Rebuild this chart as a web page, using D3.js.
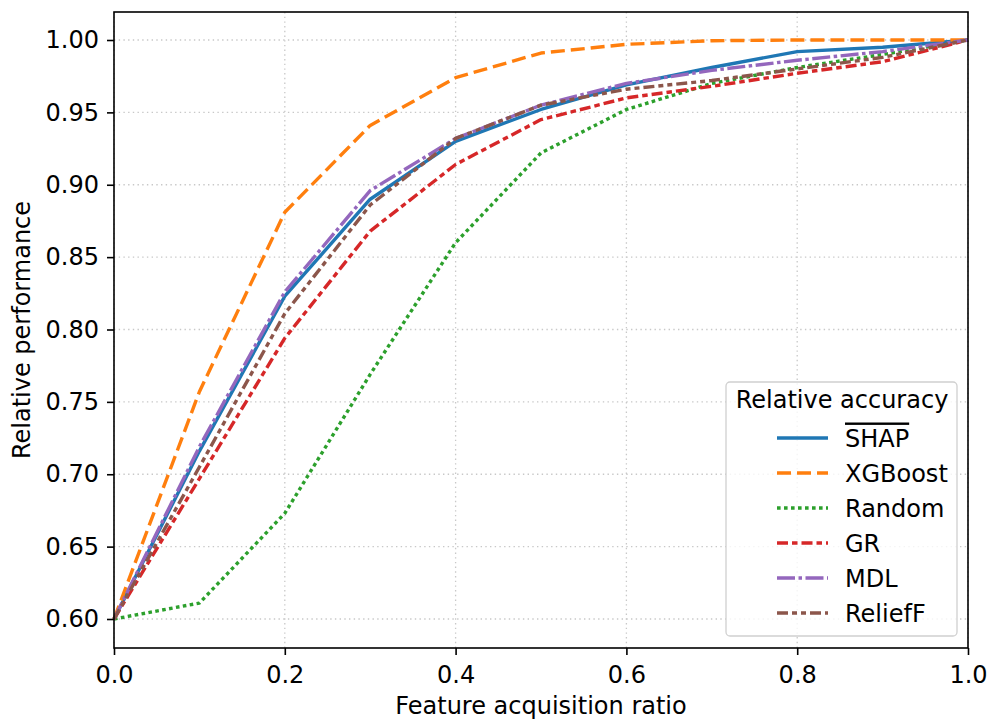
<!DOCTYPE html>
<html>
<head>
<meta charset="utf-8">
<script src="https://cdn.jsdelivr.net/npm/d3@7"></script>
<style>
  html, body { margin: 0; padding: 0; background: #fff; }
  svg { display: block; font-family: "DejaVu Sans", sans-serif; }
</style>
</head>
<body>
<svg id="chart" width="989" height="719"></svg>
<script>
// Feature acquisition ratio (x) and relative accuracy per selection method
const ratios  = [0.0, 0.1, 0.2, 0.3, 0.4, 0.5, 0.6, 0.7, 0.8, 0.9, 1.0];
const shap    = [0.600, 0.716, 0.823, 0.890, 0.930, 0.952, 0.969, 0.981, 0.992, 0.995, 1.000];
const xgboost = [0.600, 0.757, 0.881, 0.941, 0.974, 0.991, 0.997, 0.9995, 1.000, 1.000, 1.000];
const random  = [0.600, 0.611, 0.673, 0.769, 0.860, 0.922, 0.952, 0.970, 0.981, 0.990, 1.000];
const gr      = [0.600, 0.697, 0.794, 0.868, 0.914, 0.945, 0.960, 0.968, 0.977, 0.985, 1.000];
const mdl     = [0.600, 0.719, 0.826, 0.896, 0.932, 0.955, 0.970, 0.979, 0.986, 0.992, 1.000];
const relieff = [0.600, 0.705, 0.811, 0.886, 0.932, 0.955, 0.966, 0.972, 0.980, 0.988, 1.000];

const seriesNames = ["SHAP", "XGBoost", "Random", "GR", "MDL", "ReliefF"];
const xTicks = [0.0, 0.2, 0.4, 0.6, 0.8, 1.0];
const yTicks = [0.60, 0.65, 0.70, 0.75, 0.80, 0.85, 0.90, 0.95, 1.00];

const series = [
  { name: seriesNames[0], values: shap,    color: "#1f77b4", dash: null },
  { name: seriesNames[1], values: xgboost, color: "#ff7f0e", dash: "14,6" },
  { name: seriesNames[2], values: random,  color: "#2ca02c", dash: "3.6,3.4" },
  { name: seriesNames[3], values: gr,      color: "#d62728", dash: "11,4,5.5,4" },
  { name: seriesNames[4], values: mdl,     color: "#9467bd", dash: "18,3.5,3.5,3.5" },
  { name: seriesNames[5], values: relieff, color: "#8c564b", dash: "11,4,5,4,5,4" }
];

const svg = d3.select("#chart");
const margin = { left: 114, right: 21, top: 12, bottom: 71 };
const W = 989, H = 719;

const x = d3.scaleLinear().domain([0, 1]).range([margin.left, W - margin.right]);
// 0.60 and 1.00 sit inside the frame, leaving some padding at both ends
const y = d3.scaleLinear().domain([0.60, 1.00]).range([619, 40]);
const yBottom = H - margin.bottom; // 648
const yTop = margin.top;

const fontSize = 24;

// grid
const grid = svg.append("g");
grid.selectAll("line.vx").data(xTicks).join("line")
  .attr("x1", d => x(d)).attr("x2", d => x(d))
  .attr("y1", yTop).attr("y2", yBottom)
  .attr("stroke", "#c8c8c8").attr("stroke-width", 1.3)
  .attr("stroke-dasharray", "1.4,3.3");
grid.selectAll("line.hy").data(yTicks).join("line")
  .attr("x1", margin.left).attr("x2", W - margin.right)
  .attr("y1", d => y(d)).attr("y2", d => y(d))
  .attr("stroke", "#c8c8c8").attr("stroke-width", 1.3)
  .attr("stroke-dasharray", "1.4,3.3");

// lines
const line = d3.line()
  .x((d, i) => x(ratios[i]))
  .y(d => y(d));

const plot = svg.append("g");
plot.selectAll("path").data(series).join("path")
  .attr("d", d => line(d.values))
  .attr("fill", "none")
  .attr("stroke", d => d.color)
  .attr("stroke-width", 3.4)
  .attr("stroke-dasharray", d => d.dash)
  .attr("stroke-linejoin", "round");

// axes
const xAxis = d3.axisBottom(x).tickValues(xTicks).tickFormat(d3.format(".1f"))
  .tickSize(7).tickPadding(11);
const yAxis = d3.axisLeft(y).tickValues(yTicks).tickFormat(d3.format(".2f"))
  .tickSize(7).tickPadding(8);

const gx = svg.append("g").attr("transform", `translate(0,${yBottom})`).call(xAxis);
const gy = svg.append("g").attr("transform", `translate(${margin.left},0)`).call(yAxis);
[gx, gy].forEach(g => {
  g.select(".domain").remove();
  g.selectAll(".tick line").attr("stroke", "#000").attr("stroke-width", 1.6);
  g.selectAll(".tick text").attr("font-size", fontSize)
    .attr("font-family", "DejaVu Sans").attr("fill", "#000");
});

// frame
svg.append("rect")
  .attr("x", margin.left).attr("y", yTop)
  .attr("width", W - margin.right - margin.left).attr("height", yBottom - yTop)
  .attr("fill", "none").attr("stroke", "#000").attr("stroke-width", 1.6);

// axis titles
svg.append("text")
  .attr("x", (margin.left + W - margin.right) / 2).attr("y", 714)
  .attr("text-anchor", "middle").attr("font-size", fontSize)
  .text("Feature acquisition ratio");
svg.append("text")
  .attr("transform", `translate(30,${(yTop + yBottom) / 2}) rotate(-90)`)
  .attr("text-anchor", "middle").attr("font-size", fontSize)
  .text("Relative performance");

// legend
const lg = svg.append("g");
lg.append("rect")
  .attr("x", 726).attr("y", 382).attr("width", 231).attr("height", 254)
  .attr("rx", 4).attr("ry", 4)
  .attr("fill", "#fff").attr("fill-opacity", 0.8)
  .attr("stroke", "#d0d0d0").attr("stroke-width", 1.3);
lg.append("text")
  .attr("x", 842).attr("y", 408).attr("text-anchor", "middle")
  .attr("font-size", fontSize).text("Relative accuracy");

const entries = lg.selectAll("g.entry").data(series).join("g")
  .attr("transform", (d, i) => `translate(0,${438 + i * 35})`);
entries.append("line")
  .attr("x1", 777).attr("x2", 828).attr("y1", 0).attr("y2", 0)
  .attr("stroke", d => d.color).attr("stroke-width", 3.4)
  .attr("stroke-dasharray", d => d.dash);
entries.append("text")
  .attr("x", 845).attr("y", 8.5).attr("font-size", fontSize)
  .attr("text-decoration", (d, i) => i === 0 ? "overline" : null)
  .text(d => d.name);
</script>
</body>
</html>
